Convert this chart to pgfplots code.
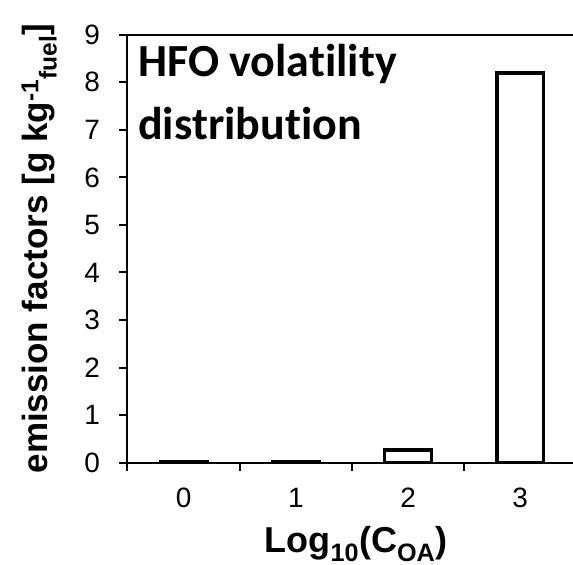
\documentclass[border=0pt]{standalone}
\usepackage{pgfplots}
\pgfplotsset{compat=1.18}
\usepackage{fontspec}
\setmainfont{Liberation Sans}
\newfontfamily\titlefont[Ligatures={NoCommon}]{Carlito}

\begin{document}
\begin{tikzpicture}
\begin{axis}[
  scale only axis,
  width=445.5bp, height=428bp,
  xmin=-0.5, xmax=3.47,
  ymin=0, ymax=9,
  clip=false,
  axis x line=bottom, axis y line=left,
  axis line style={-, line width=2bp},
  every tick/.style={black, line width=2bp},
  tick align=outside,
  major tick length=8bp,
  ytick={0,1,...,9},
  xtick={-0.5,0.5,1.5,2.5},
  xticklabels={,,,},
  extra x ticks={0,1,2,3},
  extra x tick labels={0,1,2,3},
  extra x tick style={tick style={draw=none}},
  /pgf/number format/assume math mode=true,
  tick label style={font=\fontsize{28bp}{32bp}\selectfont},
  yticklabel style={xshift=-16bp},
  xticklabel style={yshift=-14bp},
  xlabel={\textbf{Log\textsubscript{10}(C\textsubscript{OA})}},
  xlabel style={font=\fontsize{36bp}{40bp}\selectfont, at={(axis description cs:0.513,-0.2087)}, anchor=base, inner sep=0pt},
  ylabel={\textbf{emission factors [g kg\textsuperscript{-1}\textsubscript{fuel}]}},
  ylabel style={font=\fontsize{35bp}{39bp}\selectfont, at={(axis description cs:-0.158,0.5)}, anchor=south, inner sep=0pt},
  ybar, bar width=46.7bp, bar shift=0pt,
]
\addplot[draw=black, fill=white, line width=3.5bp] coordinates {
  (0,0.03) (1,0.03) (2,0.27) (3,8.2)
};
% frame line along the top of the plot area
\draw[line width=2bp] (rel axis cs:0,1) -- (rel axis cs:1,1);
\node[anchor=base west, inner sep=0pt, font=\titlefont\bfseries\fontsize{46bp}{50bp}\selectfont]
  at (axis description cs:0.0236,0.9012) {HFO volatility};
\node[anchor=base west, inner sep=0pt, font=\titlefont\bfseries\fontsize{46bp}{50bp}\selectfont]
  at (axis description cs:0.0236,0.754) {distribution};
\end{axis}
\pgfresetboundingbox
\path (-127.5bp,-102.3bp) rectangle (445.5bp,462.7bp);
\end{tikzpicture}
\end{document}
